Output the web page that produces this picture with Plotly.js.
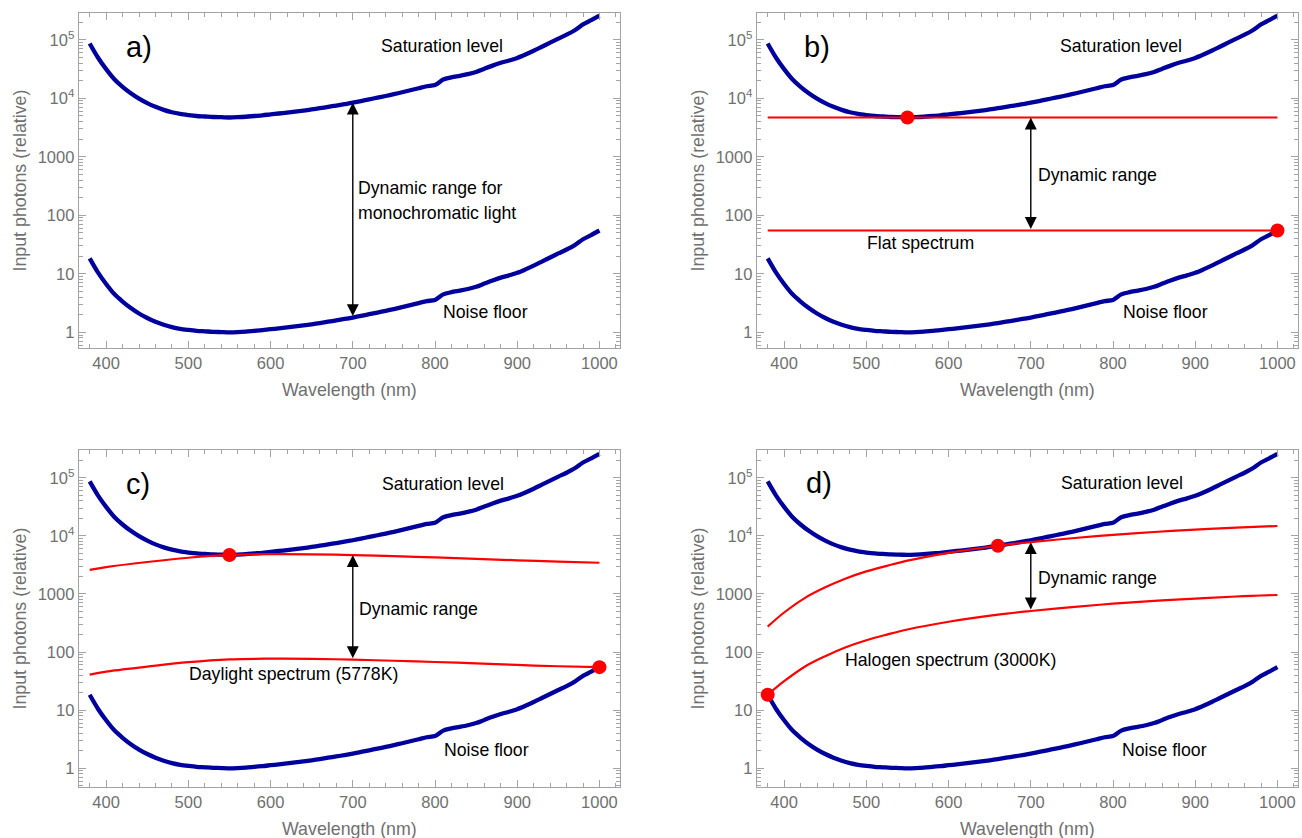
<!DOCTYPE html>
<html>
<head>
<meta charset="utf-8">
<script src="https://cdn.plot.ly/plotly-3.0.1.min.js"></script>
<style>html,body{margin:0;padding:0;background:#fff;}#chart{width:1302px;height:838px;}</style>
</head>
<body>
<div id="chart"></div>
<script>
// ---------- data ----------
const wavelength = [380,390,400,410,420,430,440,450,460,470,480,490,500,510,520,530,540,550,560,570,580,590,600,610,620,630,640,650,660,670,680,690,700,710,720,730,740,750,760,770,780,790,800,810,820,830,840,850,860,870,880,890,900,910,920,930,940,950,960,970,980,990,1000];
const noiseFloor = [18.4,10.6,6.7,4.5,3.35,2.6,2.1,1.76,1.52,1.35,1.23,1.15,1.10,1.06,1.04,1.02,1.01,1.00,1.01,1.03,1.06,1.09,1.13,1.17,1.21,1.26,1.31,1.37,1.44,1.52,1.60,1.69,1.79,1.91,2.04,2.18,2.33,2.50,2.70,2.92,3.16,3.42,3.58,4.45,4.85,5.15,5.50,6.0,6.8,7.7,8.6,9.4,10.4,11.9,13.8,16.2,19.0,22.3,26.0,31.0,39.0,46.0,55.0];
const saturationLevel = [86500,49800,31500,21200,15700,12200,9870,8270,7140,6350,5780,5410,5170,4980,4890,4790,4750,4700,4750,4840,4980,5120,5310,5500,5690,5920,6160,6440,6770,7140,7520,7940,8410,8980,9590,10250,10950,11750,12690,13720,14850,16070,16830,20900,22800,24200,25850,28200,32000,36200,40400,44200,48900,55900,64900,76100,89300,104800,122200,145700,183300,216200,258500];

const flatWl = [380, 1000];
const flatHigh = [4700, 4700];
const flatLow = [55, 55];

const dayWl = [380,400,450,500,550,600,650,700,750,800,850,900,950,1000];
const dayHigh = [2600,2900,3550,4200,4700,4850,4820,4680,4480,4250,4020,3800,3610,3450];
const dayLow = [41,46,56,67,75,77,76.5,74,71,67.5,64,60,57,55];

const haloWl = [380,400,425,450,475,500,525,550,600,660,700,750,800,850,900,950,1000];
const haloHigh = [275,480,850,1300,1850,2450,3050,3750,5100,6770,7800,9100,10400,11650,12800,13850,14800];
const haloLow = [18.4,31.5,56,85,121,160,200,245,333,442,510,595,680,760,835,905,960];

const xTicks = [400,500,600,700,800,900,1000];
const yTicks = [1,10,100,1000,10000,100000];
const yTickText = ['1','10','100','1000','10<sup>4</sup>','10<sup>5</sup>'];

// touching points (red dots)
const dotsB = {x:[550,1000], y:[4700,55]};
const dotsC = {x:[550,1000], y:[4700,55]};
const dotsD = {x:[660,380], y:[6770,18.4]};

// ---------- helpers ----------
const W = 1302, H = 838;
const FONT = 'Liberation Sans, Arial, sans-serif';
const BLUE = '#00009c', RED = '#ff0000';
const GREY = '#a3a3a3', TXTGREY = '#707070';
const LBL = 17.7, TICK = 16.5, TTL = 17.8, LETTER = 29;
const fx = p => p / W;
const fy = p => 1 - p / H;
const at = (wl, arr, v) => arr[wl.indexOf(v)];

const panels = [
  {xa:'x',  ya:'y',  xd:[79,620],  yd:[13,348],  yr:[-0.268,5.458]},
  {xa:'x2', ya:'y2', xd:[757,1298],yd:[13,348],  yr:[-0.268,5.458]},
  {xa:'x3', ya:'y3', xd:[79,620],  yd:[450,787], yr:[-0.322,5.478]},
  {xa:'x4', ya:'y4', xd:[757,1298],yd:[450,787], yr:[-0.322,5.478]}
];

const traces = [];
function blue(p){
  traces.push({x:wavelength, y:noiseFloor, xaxis:p.xa, yaxis:p.ya, mode:'lines', line:{color:BLUE,width:4.3,shape:'spline',smoothing:0.8}, hoverinfo:'skip'});
  traces.push({x:wavelength, y:saturationLevel, xaxis:p.xa, yaxis:p.ya, mode:'lines', line:{color:BLUE,width:4.3,shape:'spline',smoothing:0.8}, hoverinfo:'skip'});
}
function red(p, x, y){
  traces.push({x:x, y:y, xaxis:p.xa, yaxis:p.ya, mode:'lines', line:{color:RED,width:2.2,shape:'spline'}, hoverinfo:'skip'});
}
function dots(p, d){
  traces.push({x:d.x, y:d.y, xaxis:p.xa, yaxis:p.ya, mode:'markers', marker:{color:RED,size:14}, hoverinfo:'skip'});
}
panels.forEach(p => blue(p));
red(panels[1], flatWl, flatHigh); red(panels[1], flatWl, flatLow); dots(panels[1], dotsB);
red(panels[2], dayWl, dayHigh); red(panels[2], dayWl, dayLow); dots(panels[2], dotsC);
red(panels[3], haloWl, haloHigh); red(panels[3], haloWl, haloLow); dots(panels[3], dotsD);

const layout = {
  width: W, height: H,
  margin: {l:0, r:0, t:0, b:0},
  paper_bgcolor: '#fff', plot_bgcolor: '#fff',
  showlegend: false,
  font: {family: FONT, size: 16, color: '#000'},
  annotations: [],
  shapes: []
};

panels.forEach((p, i) => {
  const n = i === 0 ? '' : String(i + 1);
  layout['xaxis' + n] = {
    domain: [fx(p.xd[0]), fx(p.xd[1])], anchor: p.ya, range: [367, 1025],
    showline: true, linecolor: GREY, linewidth: 1.3, mirror: 'ticks',
    ticks: 'inside', ticklen: 7, tickwidth: 1, tickcolor: GREY,
    tickmode: 'array', tickvals: xTicks,
    tickfont: {family: FONT, size: TICK, color: TXTGREY},
    minor: {ticks: 'inside', ticklen: 4, tickcolor: GREY, tickmode: 'linear', tick0: 0, dtick: 20},
    showgrid: false, zeroline: false, fixedrange: true
  };
  layout['yaxis' + n] = {
    domain: [fy(p.yd[1]), fy(p.yd[0])], anchor: p.xa, type: 'log', range: p.yr,
    showline: true, linecolor: GREY, linewidth: 1.3, mirror: 'ticks',
    ticks: 'inside', ticklen: 7, tickwidth: 1, tickcolor: GREY,
    tickmode: 'array', tickvals: yTicks, ticktext: yTickText,
    tickfont: {family: FONT, size: TICK, color: TXTGREY},
    minor: {ticks: 'inside', ticklen: 4, tickcolor: GREY, dtick: 'D1'},
    showgrid: false, zeroline: false, fixedrange: true
  };
  // axis titles
  layout.annotations.push({xref:'paper', yref:'paper', x: fx((p.xd[0]+p.xd[1])/2), y: fy(p.yd[1] + 42),
    text:'Wavelength (nm)', showarrow:false, xanchor:'center', yanchor:'middle',
    font:{family:FONT, size:TTL, color:TXTGREY}});
  layout.annotations.push({xref:'paper', yref:'paper', x: fx(p.xd[0] - 60), y: fy((p.yd[0]+p.yd[1])/2),
    text:'Input photons (relative)', showarrow:false, textangle:-90, xanchor:'center', yanchor:'middle',
    font:{family:FONT, size:TTL, color:TXTGREY}});
});

function txt(x, y, s, opt) {
  layout.annotations.push(Object.assign({xref:'paper', yref:'paper', x: fx(x), y: fy(y), text: s,
    showarrow:false, xanchor:'center', yanchor:'middle', font:{family:FONT, size:LBL, color:'#000'}}, opt || {}));
}
// panel letters
txt(139, 47, 'a)', {font:{family:FONT, size:LETTER, color:'#000'}});
txt(817, 47, 'b)', {font:{family:FONT, size:LETTER, color:'#000'}});
txt(138, 484, 'c)', {font:{family:FONT, size:LETTER, color:'#000'}});
txt(819, 483, 'd)', {font:{family:FONT, size:LETTER, color:'#000'}});
// curve labels
[[442,46],[1121,46],[443,484],[1122,483]].forEach(c => txt(c[0], c[1], 'Saturation level'));
[[485,312],[1165,312],[486,750],[1164,750]].forEach(c => txt(c[0], c[1], 'Noise floor'));
txt(356, 188, 'Dynamic range for', {xanchor:'left'});
txt(356, 213, 'monochromatic light', {xanchor:'left'});
txt(1036, 175, 'Dynamic range', {xanchor:'left'});
txt(920, 243, 'Flat spectrum');
txt(357, 609, 'Dynamic range', {xanchor:'left'});
txt(293, 674, 'Daylight spectrum (5778K)');
txt(1036, 578, 'Dynamic range', {xanchor:'left'});
txt(950, 660, 'Halogen spectrum (3000K)');

// double-headed arrows at 700 nm
function arrow(p, lo, hi) {
  layout.annotations.push({xref:p.xa, yref:p.ya, axref:p.xa, ayref:p.ya,
    x:700, y:Math.log10(hi), ax:700, ay:Math.log10(lo), text:'', showarrow:true,
    arrowside:'end+start', arrowhead:2, arrowsize:1.7, arrowwidth:1.4, arrowcolor:'#000', standoff:0, startstandoff:0});
}
arrow(panels[0], at(wavelength, noiseFloor, 700), at(wavelength, saturationLevel, 700));
arrow(panels[1], flatLow[0], flatHigh[0]);
arrow(panels[2], at(dayWl, dayLow, 700), at(dayWl, dayHigh, 700));
arrow(panels[3], at(haloWl, haloLow, 700), at(haloWl, haloHigh, 700));

Plotly.newPlot('chart', traces, layout, {staticPlot: true, displayModeBar: false});
</script>
</body>
</html>
